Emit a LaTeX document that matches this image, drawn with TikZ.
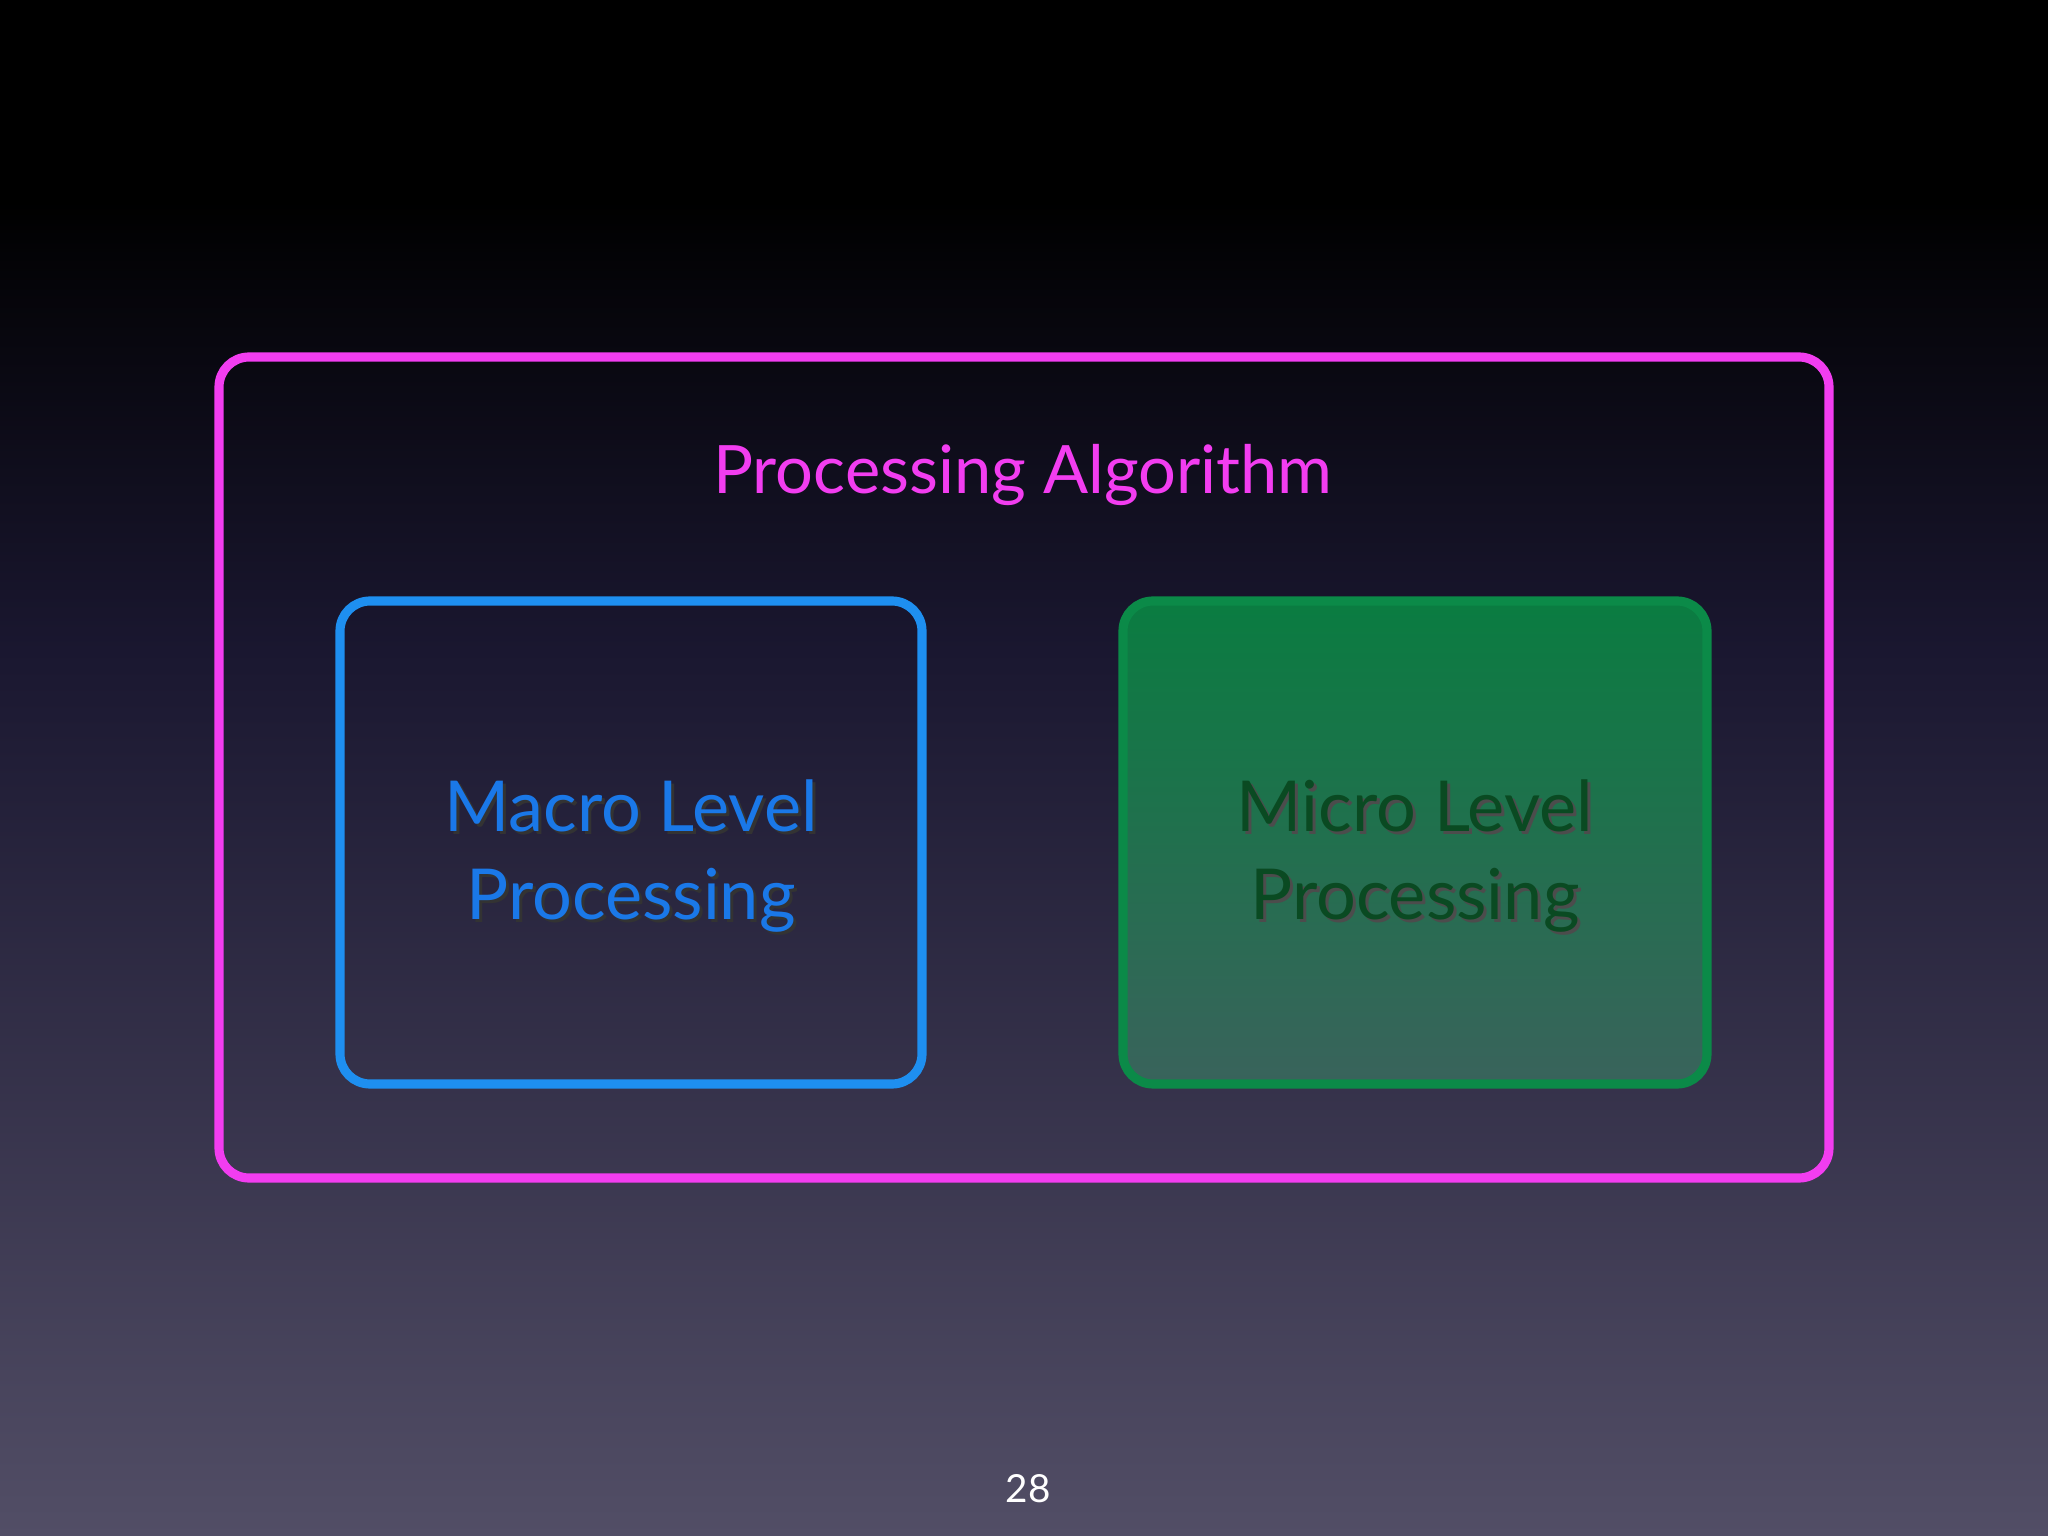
\documentclass[tikz,border=0pt]{standalone}
\usepackage{fontspec}
\setmainfont{Lato}
\definecolor{pinkc}{HTML}{F23DF0}
\definecolor{bluec}{HTML}{1E8FF0}
\definecolor{bluet}{HTML}{1A78E8}
\definecolor{greenc}{HTML}{0B8A48}
\definecolor{greent}{HTML}{0A4A22}
\definecolor{bgbot}{HTML}{524E66}
\definecolor{bgmid}{HTML}{1A1730}
\begin{document}
\begin{tikzpicture}[x=1cm,y=-1cm,
  frame/.style={line width=2.6pt,rounded corners=0.3cm},
  lbl/.style={align=center,font=\fontsize{20}{25}\selectfont}]
\useasboundingbox (0,0) rectangle (20.48,15.36);
\shade[top color=black,bottom color=black] (0,0) rectangle (20.48,2.0);
\shade[top color=black,bottom color=bgmid] (0,2.0) rectangle (20.48,6.5);
\shade[top color=bgmid,bottom color=bgbot] (0,6.5) rectangle (20.48,15.36);
\draw[frame,pinkc] (2.19,3.57) rectangle (18.29,11.78);
\node[text=pinkc,font=\fontsize{19}{24}\selectfont] (title) at (10.23,4.75) {Processing Algorithm};
\draw[frame,bluec] (3.40,6.01) rectangle (9.22,10.84);
\shade[rounded corners=0.3cm,top color=greenc!90!black,bottom color=greenc!35!bgbot] (11.23,6.01) rectangle (17.07,10.84);
\draw[frame,greenc] (11.23,6.01) rectangle (17.07,10.84);
\node[lbl,text=black!80] at (6.34,8.59) {Macro Level\\Processing};
\node[lbl,text=bluet] (macro) at (6.31,8.56) {Macro Level\\Processing};
\node[lbl,text=black!70] at (14.18,8.59) {Micro Level\\Processing};
\node[lbl,text=greent] (micro) at (14.15,8.56) {Micro Level\\Processing};
\node[text=white,font=\fontsize{11}{13}\selectfont] (pg) at (10.28,14.89) {28};
\end{tikzpicture}
\end{document}
